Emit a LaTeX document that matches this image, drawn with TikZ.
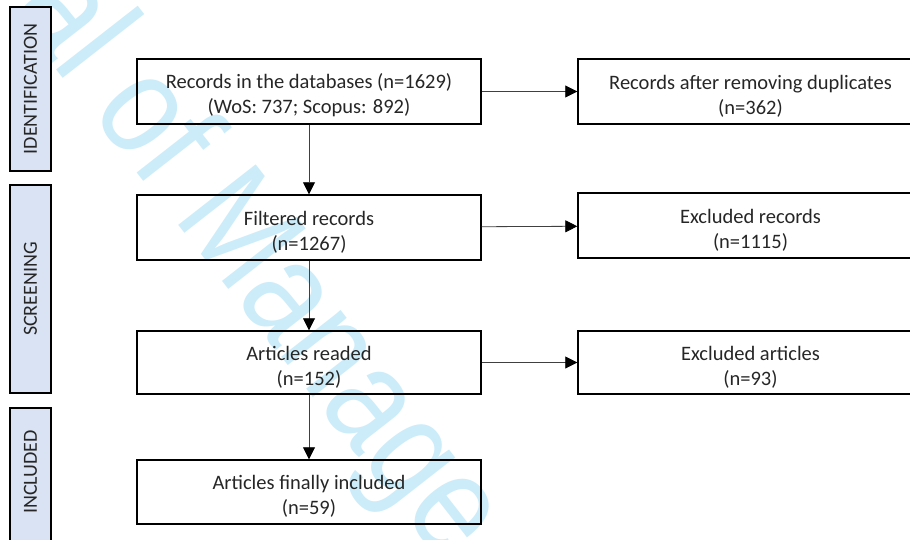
\documentclass[tikz,border=0pt]{standalone}
\usepackage{fontspec}
\setmainfont{Carlito}
\newfontfamily\wmfont[FakeStretch=0.85]{Liberation Sans}
\usetikzlibrary{arrows.meta}
\definecolor{phasefill}{RGB}{218,227,243}
\definecolor{wmblue}{RGB}{204,236,250}
\newcommand\boxgap{\rule{0pt}{23pt}}
\tikzset{
  stepbox/.style={draw, line width=1.4pt, minimum width=344pt, minimum height=65pt,
                  inner sep=0pt, align=center, text=black!85,
                  font=\fontsize{20.5}{25}\selectfont},
  phase/.style={draw, line width=2pt, fill=phasefill, rotate=90, minimum height=41pt,
                inner sep=0pt, text=black!85, font=\fontsize{20}{24}\selectfont},
  flow/.style={-{Triangle[length=12pt,width=12pt,color=black]}, line width=0.8pt, draw=black!75}
}

\begin{document}
\begin{tikzpicture}[x=1pt, y=-1pt]
  \path[use as bounding box, clip] (0,0) rectangle (910,540);
  % watermark
  \node[anchor=base west, rotate=-52, inner sep=0pt, text=wmblue,
        font=\wmfont\fontsize{143}{143}\selectfont] (wm) at (10,10) {al of Manage};

  % phases
  \node[phase, minimum width=164pt] (pid) at (30.5,89) {IDENTIFICATION};
  \node[phase, minimum width=208pt] (pscr) at (30.5,289) {SCREENING};
  \node[phase, text width=104pt, inner xsep=22pt, align=right] (pinc) at (30.5,482) {INCLUDED};

  % boxes
  \node[stepbox] (rec) at (309,91.5) {\boxgap Records in the databases (n=1629)\\(WoS: 737; Scopus: 892)};
  \node[stepbox, minimum width=345pt] (dup) at (750.5,91.5) {\boxgap Records after removing duplicates\\(n=362)};
  \node[stepbox] (filt) at (309,227.5) {\boxgap Filtered records\\(n=1267)};
  \node[stepbox, minimum width=345pt] (exrec) at (750.5,225.5) {\boxgap Excluded records\\(n=1115)};
  \node[stepbox, minimum height=63pt] (read) at (309,362.5) {\boxgap Articles readed\\(n=152)};
  \node[stepbox, minimum width=345pt, minimum height=63pt] (exart) at (750.5,362.5) {\boxgap Excluded articles\\(n=93)};
  \node[stepbox, minimum height=64pt] (incl) at (309,492) {\boxgap Articles finally included\\(n=59)};

  \draw[flow] (rec) -- (dup);
  \draw[flow] (rec) -- (filt);
  \draw[flow] (filt) -- (exrec);
  \draw[flow] (filt) -- (read);
  \draw[flow] (read) -- (exart);
  \draw[flow] (read) -- (incl);
\end{tikzpicture}
\end{document}
